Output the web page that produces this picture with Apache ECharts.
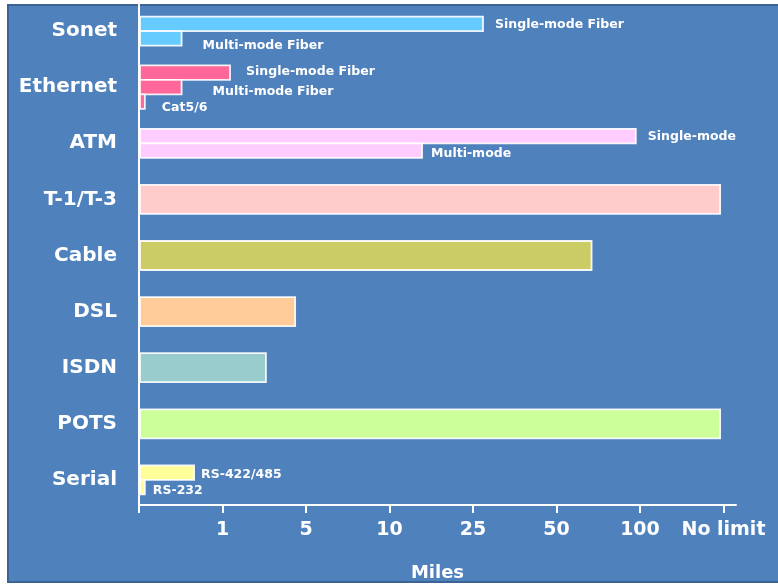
<!DOCTYPE html>
<html>
<head>
<meta charset="utf-8">
<script src="https://cdn.jsdelivr.net/npm/echarts@6/dist/echarts.min.js"></script>
<style>
html,body{margin:0;padding:0;background:#ffffff;}
#chart{width:778px;height:587px;}
</style>
</head>
<body>
<div id="chart"></div>
<script>
// Categories (top to bottom)
const categories = ['Sonet', 'Ethernet', 'ATM', 'T-1/T-3', 'Cable', 'DSL', 'ISDN', 'POTS', 'Serial'];
// X-axis tick labels (axis position index -> label)
const tickLabels = ['', '1', '5', '10', '25', '50', '100', 'No limit'];
// Bar lengths in axis-position units (1 = "1 mile" tick, 7 = "No limit")
const sonetValues = [4.12, 0.51];
const ethernetValues = [1.09, 0.51, 0.07];
const atmValues = [5.95, 3.39];
const t1t3Values = [6.96];
const cableValues = [5.42];
const dslValues = [1.87];
const isdnValues = [1.52];
const potsValues = [6.96];
const serialValues = [0.66, 0.07];
// Bar annotations
const sonetLabels = ['Single-mode Fiber', 'Multi-mode Fiber'];
const ethernetLabels = ['Single-mode Fiber', 'Multi-mode Fiber', 'Cat5/6'];
const atmLabels = ['Single-mode', 'Multi-mode'];
const serialLabels = ['RS-422/485', 'RS-232'];

const valuesByCategory = [sonetValues, ethernetValues, atmValues, t1t3Values, cableValues, dslValues, isdnValues, potsValues, serialValues];
const labelsByCategory = [sonetLabels, ethernetLabels, atmLabels, [], [], [], [], [], serialLabels];

// styling (separate from data)
const colors = ['#66ccff', '#ff6699', '#ffccff', '#ffcccc', '#cccc66', '#ffcc99', '#99cccc', '#ccff99', '#ffff99'];
const labelShift = {
  '0-0': [12, 1], '0-1': [21, 7],
  '1-0': [16, -1], '1-1': [31, 5], '1-2': [17, 6],
  '2-0': [12, 1], '2-1': [9, 3],
  '8-0': [7, 2], '8-1': [8, 4]
};

const items = [];
valuesByCategory.forEach((vals, ci) => {
  vals.forEach((v, si) => {
    items.push({ value: [v, ci, si, vals.length], label: labelsByCategory[ci][si] || '', color: colors[ci], key: ci + '-' + si });
  });
});

const chart = echarts.init(document.getElementById('chart'));
const FONT = '"DejaVu Sans", sans-serif';

chart.setOption({
  animation: false,
  graphic: [{
    type: 'rect', z: -10, silent: true,
    shape: { x: 8, y: 5, width: 780, height: 577 },
    style: { fill: '#4f81bd', stroke: '#3b6395', lineWidth: 2 }
  }],
  grid: { left: 139, right: 42, top: 3, bottom: 79, containLabel: false, outerBoundsMode: 'none' },
  xAxis: {
    type: 'value', min: 0, max: 7.15, interval: 1, offset: -3,
    name: 'Miles', nameLocation: 'middle', nameGap: 59,
    nameTextStyle: { color: '#ffffff', fontFamily: FONT, fontWeight: 'bold', fontSize: 18 },
    axisLine: { show: true, lineStyle: { color: '#ffffff', width: 2 } },
    axisTick: { show: true, length: 8, lineStyle: { color: '#ffffff', width: 2 } },
    splitLine: { show: false },
    axisLabel: {
      color: '#ffffff', fontFamily: FONT, fontWeight: 'bold', fontSize: 19, margin: 16,
      showMaxLabel: false,
      formatter: v => tickLabels[Math.round(v)] || ''
    }
  },
  yAxis: {
    type: 'category', data: categories, inverse: true,
    axisLine: { show: true, lineStyle: { color: '#ffffff', width: 2 } },
    axisTick: { show: false },
    axisLabel: { color: '#ffffff', fontFamily: FONT, fontWeight: 'bold', fontSize: 20, margin: 22, padding: [15, 0, 0, 0] }
  },
  series: [{
    type: 'custom',
    encode: { x: 0, y: 1 },
    data: items.map(d => d.value),
    renderItem: function (params, api) {
      const it = items[params.dataIndex];
      const val = api.value(0), cat = api.value(1), sub = api.value(2), n = api.value(3);
      const p0 = api.coord([0, cat]);
      const p1 = api.coord([val, cat]);
      const h = n === 1 ? 29 : 14.5;
      const top = p0[1] - n * h / 2 + sub * h;
      const children = [{
        type: 'rect',
        shape: { x: p0[0] + 1, y: top, width: p1[0] - p0[0] - 1, height: h },
        style: { fill: it.color, stroke: 'rgba(255,255,255,0.9)', lineWidth: 1.8 }
      }];
      if (it.label) {
        const sh = labelShift[it.key] || [10, 0];
        children.push({
          type: 'text',
          style: {
            x: p1[0] + sh[0], y: top + h / 2 + sh[1],
            text: it.label, fill: '#ffffff',
            font: 'bold 12.5px ' + FONT,
            textAlign: 'left', textVerticalAlign: 'middle'
          }
        });
      }
      return { type: 'group', children: children };
    }
  }]
});
</script>
</body>
</html>
